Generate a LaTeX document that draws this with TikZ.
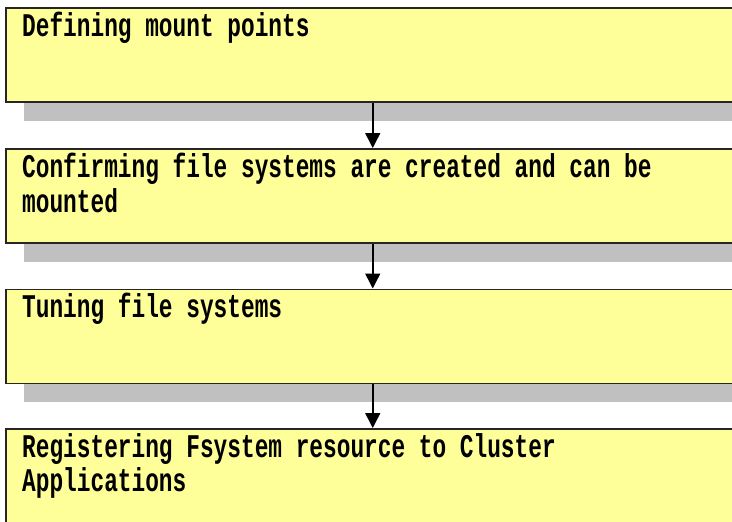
\documentclass[tikz,border=0pt]{standalone}
\usepackage{fontspec}
\setmonofont{Liberation Mono}
\usetikzlibrary{arrows.meta,shadows}
\definecolor{boxyellow}{HTML}{FFFF99}
\definecolor{shadowgray}{HTML}{C0C0C0}
\newcommand\stretchline[1]{\scalebox{1}[1.45]{#1}}
\begin{document}
\begin{tikzpicture}[x=1pt,y=-1pt,
  stepbox/.style={draw=black!85, line width=1.5pt, fill=boxyellow,
    minimum width=734pt, minimum height=94pt, inner sep=0pt, anchor=north west,
    drop shadow={shadow xshift=18pt, shadow yshift=-19pt, fill=shadowgray, opacity=1}},
  steptext/.style={anchor=base west, inner sep=0pt,
    font=\fontsize{22.8}{27}\selectfont\ttfamily\bfseries},
  flow/.style={line width=1.5pt, draw=black, -{Triangle[width=15pt,length=15pt]}}]
\useasboundingbox (0,0) rectangle (732,522);
\clip (0,0) rectangle (732,522);
\fill[white] (0,0) rectangle (732,522);

\node[stepbox] (b1) at (5,7) {};
\node[stepbox] (b2) at (5,148) {};
\node[stepbox] (b3) at (5,288.5) {};
\node[stepbox] (b4) at (5,428) {};

\node[steptext] (t1) at (22,36) {\stretchline{Defining mount points}};
\node[steptext] (t2a) at (22,177) {\stretchline{Confirming file systems are created and can be}};
\node[steptext] (t2b) at (22,212) {\stretchline{mounted}};
\node[steptext] (t3) at (22,317.5) {\stretchline{Tuning file systems}};
\node[steptext] (t4a) at (22,457) {\stretchline{Registering Fsystem resource to Cluster}};
\node[steptext] (t4b) at (22,491) {\stretchline{Applications}};

\draw[flow] (b1.south) -- (b2.north);
\draw[flow] (b2.south) -- (b3.north);
\draw[flow] (b3.south) -- (b4.north);
\end{tikzpicture}
\end{document}
